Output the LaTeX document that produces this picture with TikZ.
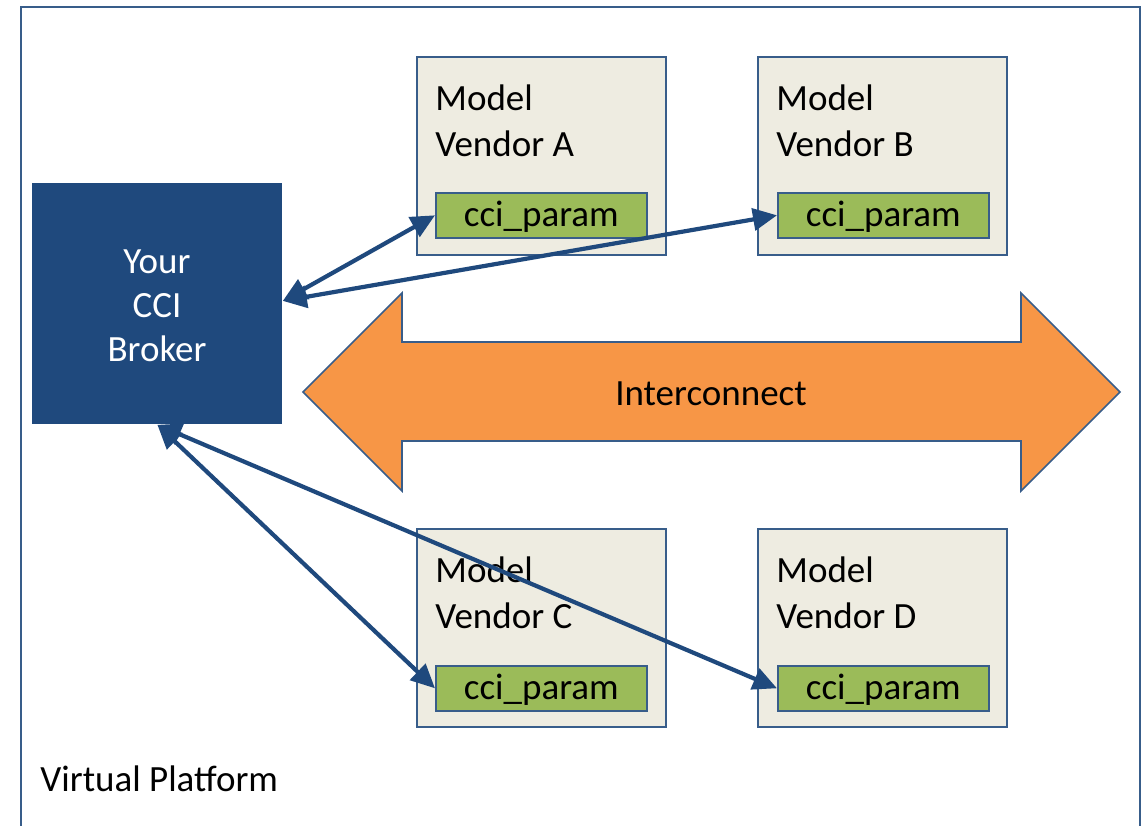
\documentclass[tikz,border=0pt]{standalone}
\usepackage{fontspec}
\setmainfont{Carlito}
\usetikzlibrary{arrows.meta}
\definecolor{frameblue}{HTML}{385D8A}
\definecolor{darkblue}{HTML}{1F497D}
\definecolor{vendorfill}{HTML}{EEECE1}
\definecolor{paramgreen}{HTML}{9BBB59}
\definecolor{icorange}{HTML}{F79646}
\begin{document}
\begin{tikzpicture}[x=0.5pt,y=-0.5pt,
  txt/.style={font=\fontsize{18.5}{22}\selectfont, inner sep=0pt},
  vendorbox/.style={draw=frameblue, line width=0.8pt, fill=vendorfill, minimum width=124.5pt, minimum height=99pt, anchor=north west, inner sep=0pt},
  parambox/.style={draw=frameblue, line width=0.8pt, fill=paramgreen, minimum width=105.5pt, minimum height=22.5pt, anchor=north west, inner sep=0pt, text height=14.5pt, text depth=3pt, font=\fontsize{18.5}{22}\selectfont},
  link/.style={draw=darkblue, line width=2.1pt, {Triangle[length=12pt,width=11pt]}-{Triangle[length=12pt,width=11pt]}}
]
\useasboundingbox (0,0) rectangle (1148,826);
% outer frame (bottom edge outside picture)
\draw[frameblue, line width=1pt] (21,840) -- (21,7) -- (1140,7) -- (1140,840);
% broker
\node[fill=darkblue, minimum width=125pt, minimum height=120.5pt, anchor=north west, inner sep=0pt] (broker) at (32,183) {};
\node[txt, text=white, align=center] (brokertext) at (157,306) {Your\\CCI\\Broker};
% vendor boxes
\node[vendorbox] (vA) at (416,56) {};
\node[vendorbox] (vB) at (757,56) {};
\node[vendorbox] (vC) at (416,528) {};
\node[vendorbox] (vD) at (757,528) {};
\node[txt, align=left, anchor=north west] (tA) at (435,84) {Model\\[1pt]Vendor A};
\node[txt, align=left, anchor=north west] (tB) at (776,84) {Model\\[1pt]Vendor B};
\node[txt, align=left, anchor=north west] (tC) at (435,556) {Model\\[1pt]Vendor C};
\node[txt, align=left, anchor=north west] (tD) at (776,556) {Model\\[1pt]Vendor D};
% params
\node[parambox] (pA) at (435,192) {cci\_param};
\node[parambox] (pB) at (777,192) {cci\_param};
\node[parambox] (pC) at (435,665) {cci\_param};
\node[parambox] (pD) at (777,665) {cci\_param};
% interconnect
\draw[draw=frameblue, line width=0.8pt, fill=icorange]
  (303,392) -- (402,293) -- (402,342) -- (1021,342) -- (1021,293) -- (1120,392)
  -- (1021,491) -- (1021,441) -- (402,441) -- (402,491) -- cycle;
\node[txt] (ic) at (711,394) {Interconnect};
% label
\node[txt, anchor=west] (vp) at (40,779) {Virtual Platform};
% links
\draw[link] ([yshift=1.5pt]broker.east) -- (pA.west);
\draw[link] ([yshift=1.5pt]broker.east) -- (pB.west);
\draw[link] (broker.south) -- (pC.west);
\draw[link] (broker.south) -- (pD.west);
\end{tikzpicture}
\end{document}
